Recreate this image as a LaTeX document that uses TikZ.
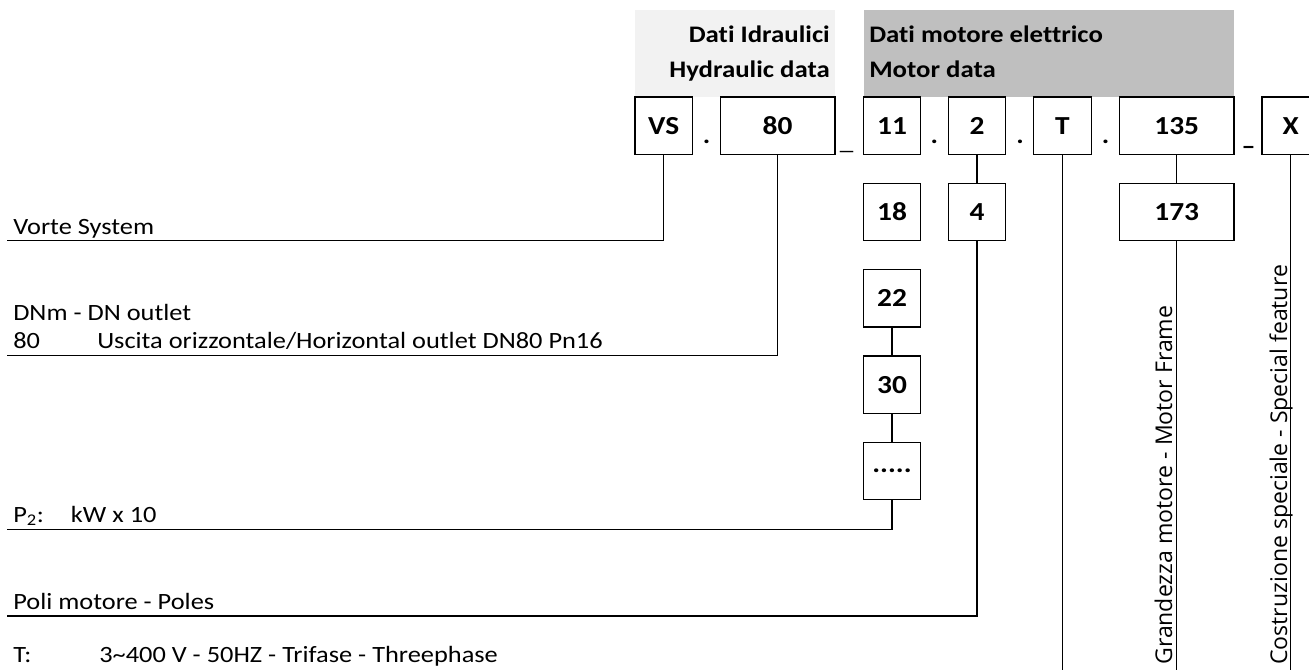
\documentclass[tikz,border=0pt]{standalone}
\usepackage{fontspec}
\setmainfont{Carlito}[FakeStretch=1.13,RawFeature=-liga]
\newfontfamily\vfont{Open Sans}
\definecolor{lightg}{HTML}{F2F2F2}
\definecolor{darkg}{HTML}{BFBFBF}
\begin{document}
\begin{tikzpicture}[x=0.75pt,y=-0.75pt,
 box/.style={draw=black,line width=1pt,fill=white,inner sep=0pt,minimum height=43.1pt,minimum width=43.05pt,font=\fontsize{19.5}{21}\selectfont\bfseries},
 wide/.style={box,minimum width=86pt},
 bg/.style={inner sep=0pt,anchor=north west,minimum height=65.25pt},
 conn/.style={draw=black,line width=0.9pt},
 lbl/.style={anchor=base west,inner sep=0pt,font=\fontsize{17.5}{20}\selectfont},
 hdr/.style={inner sep=0pt,font=\fontsize{17.8}{20}\selectfont\bfseries},
 sep/.style={anchor=base,inner sep=0pt,font=\fontsize{18.5}{20}\selectfont\bfseries},
 vlbl/.style={rotate=90,anchor=base west,inner sep=0pt,font=\vfont\fontsize{17.3}{18}\selectfont}]
\useasboundingbox (0,0) rectangle (1309,670);
\fill[white] (0,0) rectangle (1309,670);
% header backgrounds
\node[bg,fill=lightg,minimum width=150pt] (hydbg) at (635,10) {};
\node[bg,fill=darkg,minimum width=278pt] (motbg) at (863.3,10) {};
\node[hdr,anchor=base east] (h1) at (830,43) {Dati Idraulici};
\node[hdr,anchor=base east] (h2) at (830,78) {Hydraulic data};
\node[hdr,anchor=base west] (h3) at (869,43) {Dati motore elettrico};
\node[hdr,anchor=base west] (h4) at (869,78) {Motor data};
% row 1
\node[box] (vs) at (663.6,125.7) {VS};
\node[wide] (b80) at (777.5,125.7) {80};
\node[box] (b11) at (892,125.7) {11};
\node[box] (b2) at (977,125.7) {2};
\node[box] (bT) at (1062.5,125.7) {T};
\node[wide] (b135) at (1176.7,125.7) {135};
\node[box] (bX) at (1290.7,125.7) {X};
% separators
\node[sep] (d1) at (706.7,144) {.};
\node[sep,font=\fontsize{18}{20}\selectfont] (u1) at (846.5,150) {\_};
\node[sep] (d2) at (934.3,144) {.};
\node[sep] (d3) at (1020,144) {.};
\node[sep] (d4) at (1105.7,144) {.};
\node[sep] (u2) at (1248.5,155) {–};
% other boxes
\node[box] (b18) at (892,212) {18};
\node[box] (b4) at (977,212) {4};
\node[wide] (b173) at (1176.7,212) {173};
\node[box] (b22) at (892,298.3) {22};
\node[box] (b30) at (892,384.6) {30};
\node[box] (bdots) at (892,470.9) {.....};
% end points
\coordinate (e1) at (7.3,240.7);
\coordinate (e2) at (7.3,355.5);
\coordinate (e3) at (7.3,529.3);
\coordinate (e4) at (7.3,616);
\coordinate (eT) at (1062.5,671);
\coordinate (e173) at (1176.7,671);
\coordinate (eX) at (1290.7,671);
% connectors
\draw[conn] (vs.south) |- (e1);
\draw[conn] (b80.south) |- (e2);
\draw[conn] (b2.south) -- (b4.north);
\draw[conn] (b4.south) |- (e4);
\draw[conn] (b22.south) -- (b30.north);
\draw[conn] (b30.south) -- (bdots.north);
\draw[conn] (bdots.south) |- (e3);
\draw[conn] (bT.south) -- (eT);
\draw[conn] (b135.south) -- (b173.north);
\draw[conn] (b173.south) -- (e173);
\draw[conn] (bX.south) -- (eX);
% labels
\node[lbl] (l1) at (13,235) {Vorte System};
\node[lbl] (l2) at (13,320) {DNm - DN outlet};
\node[lbl] (l3) at (13,348) {80};
\node[lbl] (l4) at (97,348) {Uscita orizzontale/Horizontal outlet DN80 Pn16};
\node[lbl] (l5) at (13,522) {P\textsubscript{2}:};
\node[lbl] (l6) at (70.7,522) {kW x 10};
\node[lbl] (l7) at (13,609) {Poli motore - Poles};
\node[lbl] (l8) at (13,662) {T:};
\node[lbl] (l9) at (99,662) {3\textasciitilde400 V - 50HZ - Trifase - Threephase};
\node[vlbl] (g) at (1172,665) {Grandezza motore - Motor Frame};
\node[vlbl] (c) at (1287,665) {Costruzione speciale - Special feature};
\end{tikzpicture}
\end{document}
